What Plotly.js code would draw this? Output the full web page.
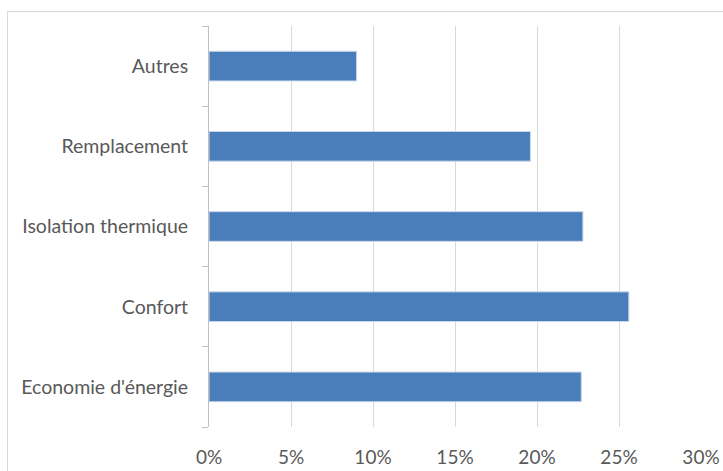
<!DOCTYPE html>
<html>
<head>
<meta charset="utf-8">
<script src="https://cdn.plot.ly/plotly-3.0.1.min.js"></script>
<style>
  html, body { margin: 0; padding: 0; background: #fff; }
  #wrap { position: relative; width: 723px; height: 471px; }
  #chart { width: 723px; height: 471px; }
  #frame { position: absolute; left: 7px; top: 11px; right: -5px; bottom: -5px;
           border-left: 1px solid #d9d9d9; border-top: 1px solid #d9d9d9; pointer-events: none; }
</style>
</head>
<body>
<div id="wrap">
  <div id="chart"></div>
  <div id="frame"></div>
</div>
<script>
// Categories listed bottom to top
const categories = ["Economie d'énergie", "Confort", "Isolation thermique", "Remplacement", "Autres"];
const values = [0.227, 0.256, 0.228, 0.196, 0.090];
const xTickVals = [0, 0.05, 0.10, 0.15, 0.20, 0.25, 0.30];

const trace = {
  type: 'bar',
  orientation: 'h',
  y: categories,
  x: values,
  marker: { color: '#4a7ebb', line: { color: '#c9d8ec', width: 1 } },
  hoverinfo: 'none'
};

const layout = {
  width: 723, height: 471,
  margin: { l: 209, r: 22, t: 26, b: 44 },
  paper_bgcolor: 'rgba(0,0,0,0)',
  plot_bgcolor: 'rgba(0,0,0,0)',
  font: { family: 'Lato, "Open Sans", sans-serif', size: 19.5, color: '#595959' },
  bargap: 0.63,
  showlegend: false,
  xaxis: {
    range: [0, 0.30],
    tickvals: xTickVals,
    tickformat: '.0%',
    showgrid: true, gridcolor: '#d9d9d9', gridwidth: 1,
    zeroline: false, showline: false,
    ticks: '', ticklabelstandoff: 17,
    tickfont: { size: 19, color: '#595959' },
    fixedrange: true
  },
  yaxis: {
    type: 'category',
    showline: true, linecolor: '#bfbfbf', linewidth: 1,
    ticks: 'outside', tickson: 'boundaries', ticklen: 6, tickcolor: '#bfbfbf',
    ticklabelstandoff: 16,
    showgrid: false, zeroline: false,
    tickfont: { size: 19.5, color: '#595959' },
    fixedrange: true
  }
};

Plotly.newPlot('chart', [trace], layout, { displayModeBar: false, staticPlot: true });
</script>
</body>
</html>
